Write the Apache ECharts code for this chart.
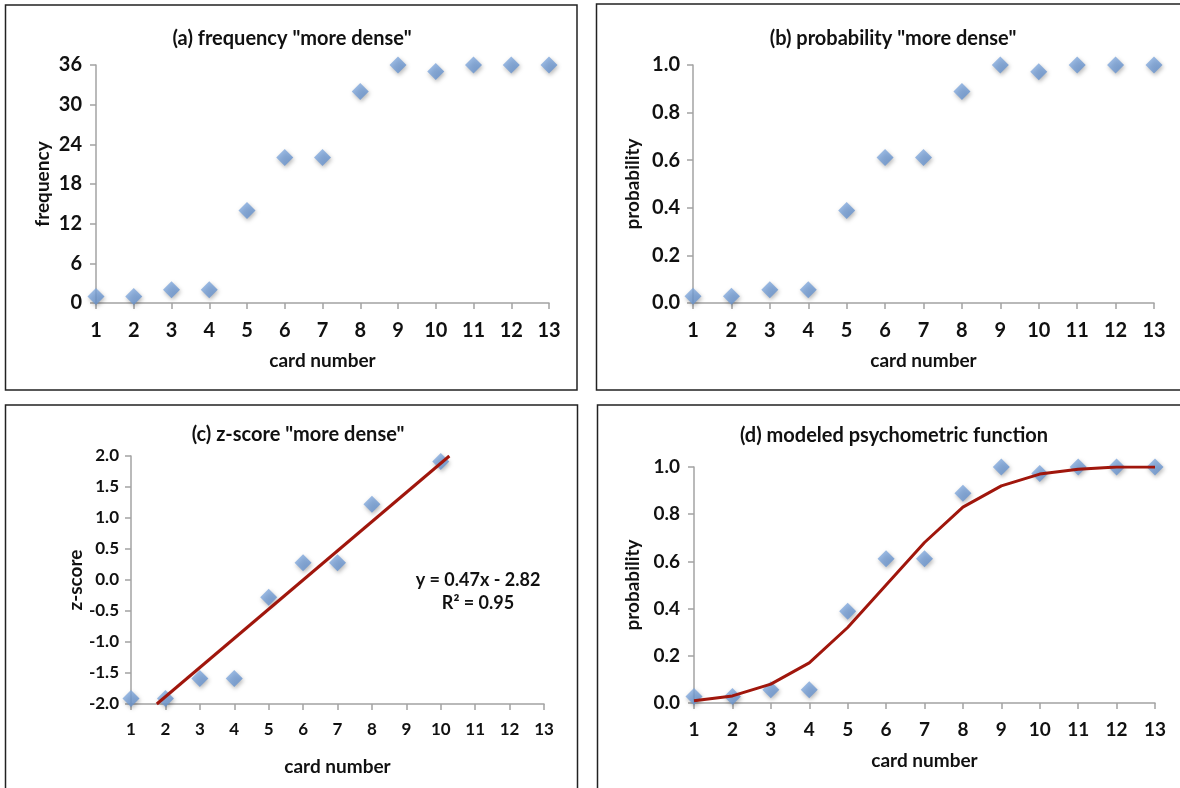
<!DOCTYPE html>
<html>
<head>
<meta charset="utf-8">
<script src="https://cdn.jsdelivr.net/npm/echarts@6/dist/echarts.min.js"></script>
<style>
  html, body { margin: 0; padding: 0; background: #fff; }
  #chartRoot { width: 1180px; height: 788px; }
</style>
</head>
<body>
<div id="chartRoot"></div>
<script>
// card numbers on the x axis
const cardNumbers = [1, 2, 3, 4, 5, 6, 7, 8, 9, 10, 11, 12, 13];
// (a) how often "more dense" was chosen, out of 36
const frequency = [1, 1, 2, 2, 14, 22, 22, 32, 36, 35, 36, 36, 36];
// (b) same as probability
const probability = [0.028, 0.028, 0.056, 0.056, 0.389, 0.611, 0.611, 0.889, 1.0, 0.972, 1.0, 1.0, 1.0];
// (c) z-scores, cards 9, 11, 12, 13 have no finite value
const zCards = [1, 2, 3, 4, 5, 6, 7, 8, 10];
const zScores = [-1.91, -1.91, -1.59, -1.59, -0.28, 0.28, 0.28, 1.22, 1.91];
// linear trend line end points (clipped to the plot)
const trendLine = [[1.75, -2.0], [10.25, 2.0]];
const trendText = ["y = 0.47x - 2.82", "R² = 0.95"];
// (d) modeled psychometric function
const modelCurve = [0.01, 0.03, 0.08, 0.17, 0.32, 0.50, 0.68, 0.83, 0.92, 0.97, 0.99, 1.0, 1.0];

const FONT = "Lato";
const axisColor = "#a3a3a3";
const lineColor = "#a0160c";

let pairs = (xs, ys) => xs.map((x, i) => [x, ys[i]]);

let xAxisCfg = (gridIndex, size, margin, nameGap) => ({
    type: "value",
    gridIndex,
    min: 1,
    max: 13,
    interval: 1,
    name: "card number",
    nameLocation: "middle",
    nameGap,
    nameTextStyle: { fontFamily: FONT, fontWeight: "bold", fontSize: 19, color: "#111" },
    axisLine: { show: true, onZero: false, lineStyle: { color: axisColor, width: 1.5 } },
    axisTick: { show: true, inside: false, length: 6, lineStyle: { color: axisColor, width: 1.5 } },
    axisLabel: { fontFamily: FONT, fontWeight: "bold", fontSize: size, color: "#111", margin },
    splitLine: { show: false }
});

let yAxisCfg = (gridIndex, opts) => ({
    type: "value",
    gridIndex,
    min: opts.min,
    max: opts.max,
    interval: opts.interval,
    name: opts.name,
    nameLocation: "middle",
    nameGap: opts.nameGap,
    nameTextStyle: { fontFamily: FONT, fontWeight: "bold", fontSize: 19, color: "#111" },
    axisLine: { show: true, onZero: false, lineStyle: { color: axisColor, width: 1.5 } },
    axisTick: { show: true, inside: false, length: 6, lineStyle: { color: axisColor, width: 1.5 } },
    axisLabel: {
        fontFamily: FONT, fontWeight: "bold", fontSize: opts.size, color: "#111", margin: opts.margin,
        formatter: opts.fmt
    },
    splitLine: { show: false }
});

let scatterSeries = (idx, data) => ({
    type: "scatter",
    xAxisIndex: idx,
    yAxisIndex: idx,
    data,
    symbol: "diamond",
    symbolSize: [17, 17],
    itemStyle: {
        color: {
            type: "linear", x: 0, y: 0, x2: 1, y2: 1,
            colorStops: [{ offset: 0, color: "#8fb4e4" }, { offset: 1, color: "#5b89c8" }]
        },
        shadowBlur: 4,
        shadowColor: "rgba(0,0,0,0.35)",
        shadowOffsetX: 1,
        shadowOffsetY: 2
    },
    z: 3
});

let titleCfg = (text, left, top) => ({
    text, left, top,
    textAlign: "center",
    textStyle: { fontFamily: FONT, fontWeight: "bold", fontSize: 20, color: "#111" }
});

let boxCfg = (x, y, w, h) => ({
    type: "rect",
    shape: { x, y, width: w, height: h },
    style: { fill: "none", stroke: "#222", lineWidth: 1.5 },
    z: 0
});

let myChart = echarts.init(document.querySelector("#chartRoot"));
let option = {
    backgroundColor: "#fff",
    animation: false,
    title: [
        titleCfg('(a) frequency "more dense"', 287, 24),
        titleCfg('(b) probability "more dense"', 888, 24),
        titleCfg('(c) z-score "more dense"', 293, 420),
        titleCfg("(d) modeled psychometric function", 889, 421)
    ],
    grid: [
        { left: 96, top: 65, width: 453, height: 238 },
        { left: 693, top: 65, width: 461, height: 238 },
        { left: 131, top: 456, width: 413, height: 248 },
        { left: 694, top: 467, width: 461, height: 236 }
    ],
    xAxis: [
        xAxisCfg(0, 20, 18, 48),
        xAxisCfg(1, 20, 18, 48),
        xAxisCfg(2, 17, 17, 53),
        xAxisCfg(3, 19, 17, 48)
    ],
    yAxis: [
        yAxisCfg(0, { min: 0, max: 36, interval: 6, name: "frequency", nameGap: 44, size: 20, margin: 14 }),
        yAxisCfg(1, { min: 0, max: 1, interval: 0.2, name: "probability", nameGap: 51, size: 20, margin: 13, fmt: v => v.toFixed(1) }),
        yAxisCfg(2, { min: -2, max: 2, interval: 0.5, name: "z-score", nameGap: 45, size: 17, margin: 12, fmt: v => v.toFixed(1) }),
        yAxisCfg(3, { min: 0, max: 1, interval: 0.2, name: "probability", nameGap: 52, size: 19, margin: 14, fmt: v => v.toFixed(1) })
    ],
    series: [
        scatterSeries(0, pairs(cardNumbers, frequency)),
        scatterSeries(1, pairs(cardNumbers, probability)),
        scatterSeries(2, pairs(zCards, zScores)),
        {
            type: "line",
            xAxisIndex: 2,
            yAxisIndex: 2,
            data: trendLine,
            symbol: "none",
            lineStyle: { color: lineColor, width: 3 },
            z: 4
        },
        scatterSeries(3, pairs(cardNumbers, probability)),
        {
            type: "line",
            xAxisIndex: 3,
            yAxisIndex: 3,
            data: pairs(cardNumbers, modelCurve),
            symbol: "none",
            smooth: false,
            lineStyle: { color: lineColor, width: 3 },
            z: 4
        }
    ],
    graphic: [
        boxCfg(5.5, 5, 571.5, 385),
        boxCfg(596.5, 4, 600, 386),
        boxCfg(5.5, 405, 572, 400),
        boxCfg(597.5, 405, 600, 400),
        {
            type: "text",
            x: 478, y: 592,
            style: {
                text: trendText.join("\n"),
                align: "center",
                verticalAlign: "middle",
                lineHeight: 23,
                fontFamily: FONT, fontWeight: "bold", fontSize: 18, fill: "#111"
            },
            z: 5
        }
    ]
};
myChart.setOption(option, true);
</script>
</body>
</html>
